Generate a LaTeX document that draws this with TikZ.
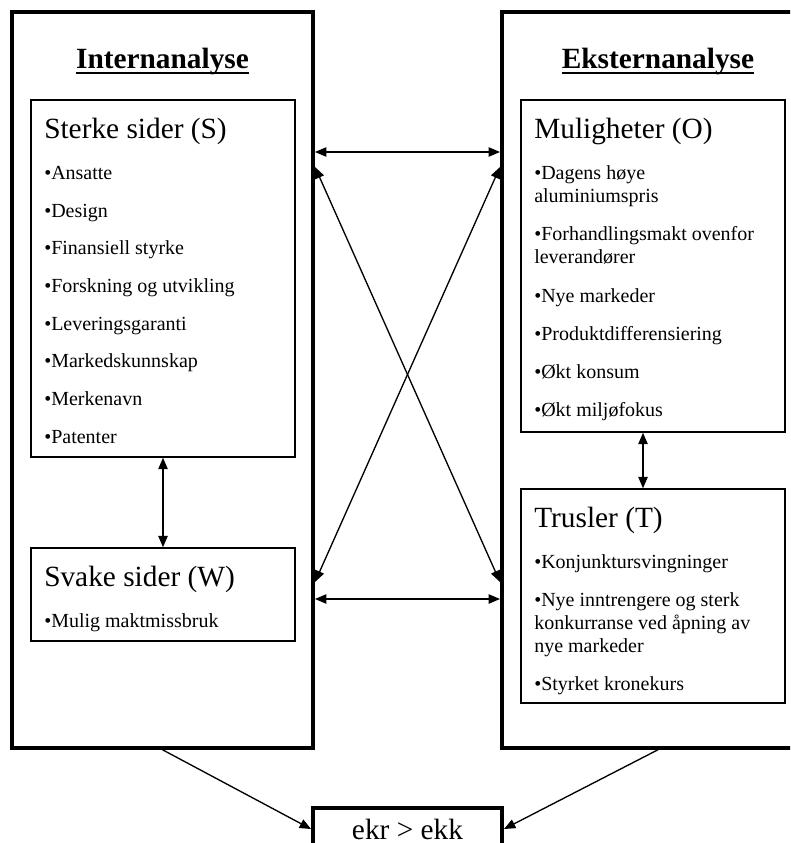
\documentclass[tikz,border=0pt]{standalone}
\usepackage{fontspec}
\setmainfont{Liberation Serif}
\usetikzlibrary{arrows.meta}

\begin{document}
\begin{tikzpicture}[x=0.75pt,y=-0.75pt,>={Triangle[length=8.5pt,width=7pt]},
	frame/.style={draw,line width=3pt,inner sep=0pt},
	box/.style={draw,line width=1.1pt,inner sep=0pt,minimum width=198pt},
	hdr/.style={anchor=base,inner sep=0pt,font=\fontsize{22}{26}\selectfont\bfseries},
	ttl/.style={anchor=base west,inner sep=0pt,font=\fontsize{22}{26}\selectfont},
	itm/.style={anchor=base west,inner sep=0pt,font=\fontsize{15}{18}\selectfont},
	pil/.style={line width=1pt}]
	\useasboundingbox (0,0) rectangle (790,843);
	\clip (0,0) rectangle (790,843);
	% rammer
	\node[frame,minimum width=225.75pt,minimum height=551.6pt] (Int) at (162.5,380) {};
	\node[frame,minimum width=234pt,minimum height=551.6pt] (Ext) at (658,380) {};
	\node[frame,minimum width=141.75pt,minimum height=31.5pt,font=\fontsize{22}{26}\selectfont] (Res) at (407.5,829) {ekr > ekk};
	\node[hdr] (hi) at (162.5,68) {Internanalyse};
	\node[hdr] (he) at (658,68) {Eksternanalyse};
	\draw[line width=1.5pt] ([yshift=-3.5pt]hi.base west) -- ([yshift=-3.5pt]hi.base east);
	\draw[line width=1.5pt] ([yshift=-3.5pt]he.base west) -- ([yshift=-3.5pt]he.base east);
	% bokser
	\node[box,minimum height=267.75pt] (S) at (163,278.5) {};
	\node[box,minimum height=69.75pt] (W) at (163,594.5) {};
	\node[box,minimum height=249pt] (O) at (653,266) {};
	\node[box,minimum height=160.5pt] (T) at (653,596) {};
	% sterke sider
	\node[ttl] (s0) at (44,138) {Sterke sider (S)};
	\node[itm] (s1) at (44,179) {•Ansatte};
	\node[itm] (s2) at (44,217) {•Design};
	\node[itm] (s3) at (44,254) {•Finansiell styrke};
	\node[itm] (s4) at (44,292) {•Forskning og utvikling};
	\node[itm] (s5) at (44,330) {•Leveringsgaranti};
	\node[itm] (s6) at (44,367) {•Markedskunnskap};
	\node[itm] (s7) at (44,405) {•Merkenavn};
	\node[itm] (s8) at (44,443) {•Patenter};
	% svake sider
	\node[ttl] (w0) at (44,586) {Svake sider (W)};
	\node[itm] (w1) at (44,627) {•Mulig maktmissbruk};
	% muligheter
	\node[ttl] (o0) at (534,138) {Muligheter (O)};
	\node[itm] (o1) at (534,179) {•Dagens høye};
	\node[itm] (o2) at (534,202) {aluminiumspris};
	\node[itm] (o3) at (534,240) {•Forhandlingsmakt ovenfor};
	\node[itm] (o4) at (534,263) {leverandører};
	\node[itm] (o5) at (534,302) {•Nye markeder};
	\node[itm] (o6) at (534,340) {•Produktdifferensiering};
	\node[itm] (o7) at (534,378) {•Økt konsum};
	\node[itm] (o8) at (534,416) {•Økt miljøfokus};
	% trusler
	\node[ttl] (t0) at (534,527) {Trusler (T)};
	\node[itm] (t1) at (534,568) {•Konjunktursvingninger};
	\node[itm] (t2) at (534,606) {•Nye inntrengere og sterk};
	\node[itm] (t3) at (534,629) {konkurranse ved åpning av};
	\node[itm] (t4) at (534,652) {nye markeder};
	\node[itm] (t5) at (534,690) {•Styrket kronekurs};
	% piler
	\draw[pil,<->] (S) -- (W);
	\draw[pil,<->] ([xshift=-7.5pt]O.south) -- ([xshift=-7.5pt]T.north);
	\draw[pil,<->] (Int.east |- 0,152) -- (Ext.west |- 0,152);
	\draw[pil,<->] (Int.east |- 0,599) -- (Ext.west |- 0,599);
	\draw[pil,<->] (Int.east |- 0,167) -- (Ext.west |- 0,582);
	\draw[pil,<->] (Ext.west |- 0,167) -- (Int.east |- 0,582);
	\draw[pil,->] (Int.south) -- (Res.west);
	\draw[pil,->] (Ext.south) -- (Res.east);
\end{tikzpicture}
\end{document}
